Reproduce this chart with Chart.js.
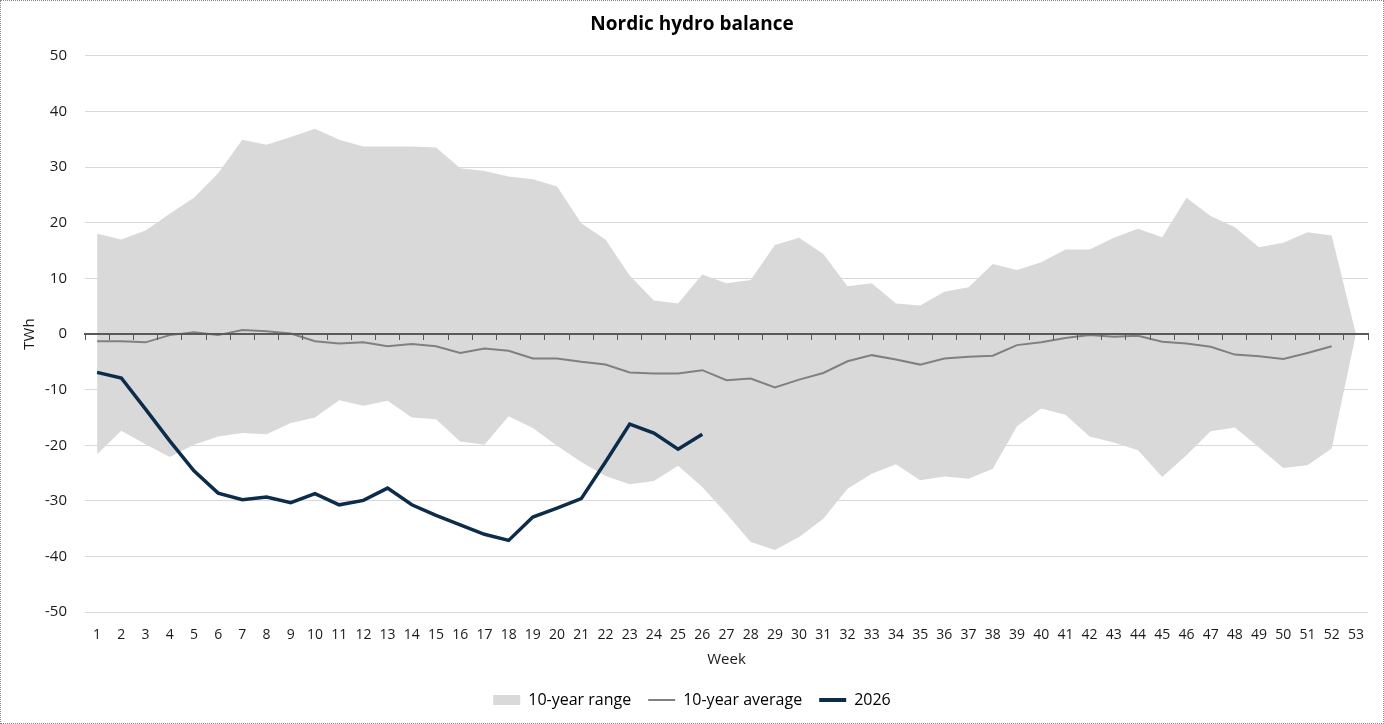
<!DOCTYPE html>
<html>
<head>
<meta charset="utf-8">
<script src="https://cdn.jsdelivr.net/npm/chart.js@4.4.1/dist/chart.umd.min.js"></script>
<style>
  html, body { margin: 0; padding: 0; background: #fff; }
  #wrap { position: relative; width: 1384px; height: 724px; }
  #wrap canvas { position: absolute; left: 0; top: 0; }
  #frame { position: absolute; left: 0; top: 0; right: 0; bottom: 0; border: 1px dotted #8a8a8a; pointer-events: none; }
</style>
</head>
<body>
<div id="wrap">
  <canvas id="chart" width="1384" height="724"></canvas>
  <div id="frame"></div>
</div>
<script>
const weeks = Array.from({ length: 53 }, (_, i) => String(i + 1));

// 10-year range, upper and lower bound (TWh)
const rangeMax = [18.0, 17.0, 18.6, 21.6, 24.5, 28.9, 34.9, 34.0, 35.4, 36.9,
  34.9, 33.7, 33.7, 33.7, 33.5, 29.8, 29.3, 28.3, 27.8, 26.5,
  19.9, 17.0, 10.5, 6.0, 5.5, 10.7, 9.1, 9.7, 16.0, 17.3,
  14.4, 8.6, 9.1, 5.5, 5.1, 7.6, 8.4, 12.6, 11.5, 12.9,
  15.2, 15.2, 17.3, 18.9, 17.4, 24.5, 21.2, 19.2, 15.6, 16.4,
  18.3, 17.7, 0];
const rangeMin = [-21.6, -17.4, -19.8, -22.1, -19.9, -18.4, -17.8, -18.0, -16.0, -15.0,
  -11.9, -12.9, -12.0, -15.0, -15.3, -19.3, -19.9, -14.8, -16.9, -20.1,
  -23.0, -25.5, -27.0, -26.4, -23.7, -27.5, -32.3, -37.4, -38.8, -36.5,
  -33.2, -27.8, -25.1, -23.4, -26.3, -25.6, -26.0, -24.2, -16.6, -13.4,
  -14.5, -18.4, -19.5, -20.9, -25.7, -21.8, -17.5, -16.8, -20.4, -24.1,
  -23.6, -20.6, 0];
const average = [-1.3, -1.3, -1.5, -0.2, 0.3, -0.2, 0.7, 0.5, 0.1, -1.3,
  -1.7, -1.5, -2.2, -1.8, -2.2, -3.4, -2.6, -3.0, -4.4, -4.4,
  -5.0, -5.5, -6.9, -7.1, -7.1, -6.5, -8.3, -8.0, -9.6, -8.2,
  -7.0, -4.9, -3.8, -4.6, -5.5, -4.4, -4.1, -3.9, -2.0, -1.5,
  -0.7, -0.2, -0.5, -0.3, -1.4, -1.7, -2.3, -3.7, -4.0, -4.5,
  -3.4, -2.2, null];
const y2026 = [-6.9, -7.9, -13.5, -19.2, -24.6, -28.6, -29.8, -29.3, -30.3, -28.7,
  -30.7, -29.9, -27.7, -30.7, -32.6, -34.3, -36.0, -37.1, -32.9, -31.3,
  -29.6, -23.0, -16.2, -17.8, -20.7, -18.0];

const rangeColor = '#d9d9d9';
const avgColor = '#808080';
const lineColor = '#0c2c4b';
const axisColor = '#595959';
const fontFamily = '"Open Sans", "Noto Sans", sans-serif';

Chart.defaults.font.family = fontFamily;
Chart.defaults.color = '#1a1a1a';

const ctx = document.getElementById('chart').getContext('2d');
new Chart(ctx, {
  type: 'line',
  data: {
    labels: weeks,
    datasets: [
      {
        label: '10-year range',
        data: rangeMax,
        borderWidth: 0,
        borderColor: rangeColor,
        backgroundColor: rangeColor,
        pointRadius: 0,
        fill: '+1',
        order: 3
      },
      {
        label: 'range-min',
        data: rangeMin,
        borderWidth: 0,
        borderColor: rangeColor,
        backgroundColor: rangeColor,
        pointRadius: 0,
        fill: false,
        order: 3
      },
      {
        label: '10-year average',
        data: average,
        borderColor: avgColor,
        borderWidth: 2,
        pointRadius: 0,
        fill: false,
        order: 2
      },
      {
        label: '2026',
        data: y2026,
        borderColor: lineColor,
        borderWidth: 3.5,
        pointRadius: 0,
        fill: false,
        order: 1
      }
    ]
  },
  options: {
    responsive: false,
    animation: false,
    layout: { padding: { top: 4, left: 0, right: 0, bottom: 6 } },
    elements: { line: { tension: 0 } },
    plugins: {
      title: {
        display: true,
        text: 'Nordic hydro balance',
        color: '#000',
        font: { size: 19, weight: 'bold' },
        padding: { top: 9, bottom: 20 }
      },
      legend: {
        position: 'bottom',
        labels: {
          usePointStyle: true,
          pointStyleWidth: 27,
          boxHeight: 10,
          padding: 17,
          color: '#1a1a1a',
          font: { size: 16 },
          generateLabels: () => [
            { text: '10-year range', fillStyle: rangeColor, strokeStyle: rangeColor, lineWidth: 0, pointStyle: 'rect', datasetIndex: 0 },
            { text: '10-year average', fillStyle: avgColor, strokeStyle: avgColor, lineWidth: 2, pointStyle: 'line', datasetIndex: 2 },
            { text: '2026', fillStyle: lineColor, strokeStyle: lineColor, lineWidth: 4, pointStyle: 'line', datasetIndex: 3 }
          ]
        }
      },
      tooltip: { enabled: false }
    },
    scales: {
      x: {
        type: 'category',
        offset: true,
        grid: { display: false },
        border: { display: false },
        ticks: { autoSkip: false, maxRotation: 0, padding: 6, font: { size: 14 } },
        title: { display: true, text: 'Week', font: { size: 15 }, padding: { top: 2, bottom: 6 } }
      },
      // zero line with week tick marks, drawn above the range area
      x2: {
        type: 'category',
        labels: weeks,
        position: { y: 0 },
        offset: true,
        grid: { offset: true, drawOnChartArea: false, drawTicks: true, tickLength: 5, color: axisColor, tickWidth: 1, z: 1 },
        border: { display: true, color: axisColor, width: 2, z: 1 },
        ticks: { display: false }
      },
      y: {
        min: -50,
        max: 50,
        afterFit: (scale) => { scale.width = 85; },
        ticks: { stepSize: 10, padding: 18, font: { size: 15 } },
        grid: { color: '#d9d9d9', drawTicks: false },
        border: { display: false },
        title: { display: true, text: 'TWh', font: { size: 15 }, padding: { top: 21, bottom: 0 } }
      },
      // empty right margin so title and legend stay centred on the canvas
      yPad: {
        position: 'right',
        min: -50,
        max: 50,
        afterFit: (scale) => { scale.width = 16; },
        ticks: { display: false },
        grid: { drawOnChartArea: false, drawTicks: false },
        border: { display: false }
      }
    }
  }
});
</script>
</body>
</html>
